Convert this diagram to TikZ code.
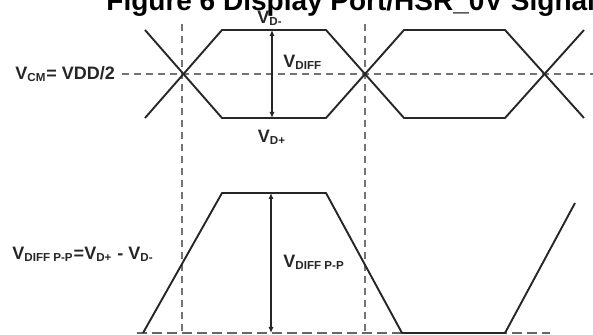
\documentclass[tikz,border=0pt]{standalone}
\usepackage{fontspec}
\setmainfont{Liberation Sans}
\usetikzlibrary{arrows.meta,positioning}

\newcommand{\vsub}[1]{V\textsubscript{\fontsize{5.8}{6}\selectfont #1}}

\begin{document}
\begin{tikzpicture}[
      x=0.5pt, y=-0.5pt,
      every node/.style={font=\fontsize{9}{10}\selectfont\bfseries, text=black!85, inner sep=0pt},
      wave/.style={draw=black!85, line width=0.95pt, line join=round},
      guide/.style={draw=black!55, line width=0.75pt, dash pattern=on 3.5pt off 2.5pt},
      baseline/.style={draw=black!60, line width=0.75pt, dash pattern=on 5pt off 2.5pt},
      span/.style={{Latex[length=3pt,width=2.6pt]}-{Latex[length=3pt,width=2.6pt]}, draw=black!85, line width=0.75pt}
  ]
    \useasboundingbox (0,0) rectangle (593,335);
    \node[font=\fontsize{14}{15}\selectfont\bfseries, text=black, anchor=base west] (title) at (106,11) {Figure 6 Display Port/HSR\_0V Signal};

    % guides
    \draw[guide] (122,74) -- (593,74);
    \draw[guide] (182,24) -- (182,333);
    \draw[guide] (365,24) -- (365,333);
    \draw[baseline] (137,333) -- (550,333);

    % eye diagram
    \draw[wave] (145,30) -- (222,118) -- (326,118) -- (404,30) -- (505,30) -- (584,118);
    \draw[wave] (145,118) -- (222,30) -- (326,30) -- (404,118) -- (505,118) -- (584,30);
    \coordinate (eyetop) at (272,30);
    \coordinate (eyebot) at (272,118);
    \draw[span] (eyetop) -- (eyebot);

    % single-ended difference
    \draw[wave] (143,333) -- (222,193) -- (326,193) -- (402,333) -- (505,333) -- (575,203);
    \coordinate (pptop) at (271,193);
    \coordinate (ppbot) at (271,333);
    \draw[span] (pptop) -- (ppbot);

    % labels
    \node (vdm) at (270,18) {\vsub{D-}};
    \node[anchor=west] (vdiff) at (283,62) {\vsub{DIFF}};
    \node (vdp) at (272,137) {\vsub{D+}};
    \node[anchor=west] (vcm) at (15,74) {\vsub{CM}= VDD/2};
    \node[anchor=west] (vppeq) at (12,254) {\vsub{DIFF P-P}=\vsub{D+} - \vsub{D-}};
    \node[anchor=west] (vpp) at (283,262) {\vsub{DIFF P-P}};
  \end{tikzpicture}
\end{document}
